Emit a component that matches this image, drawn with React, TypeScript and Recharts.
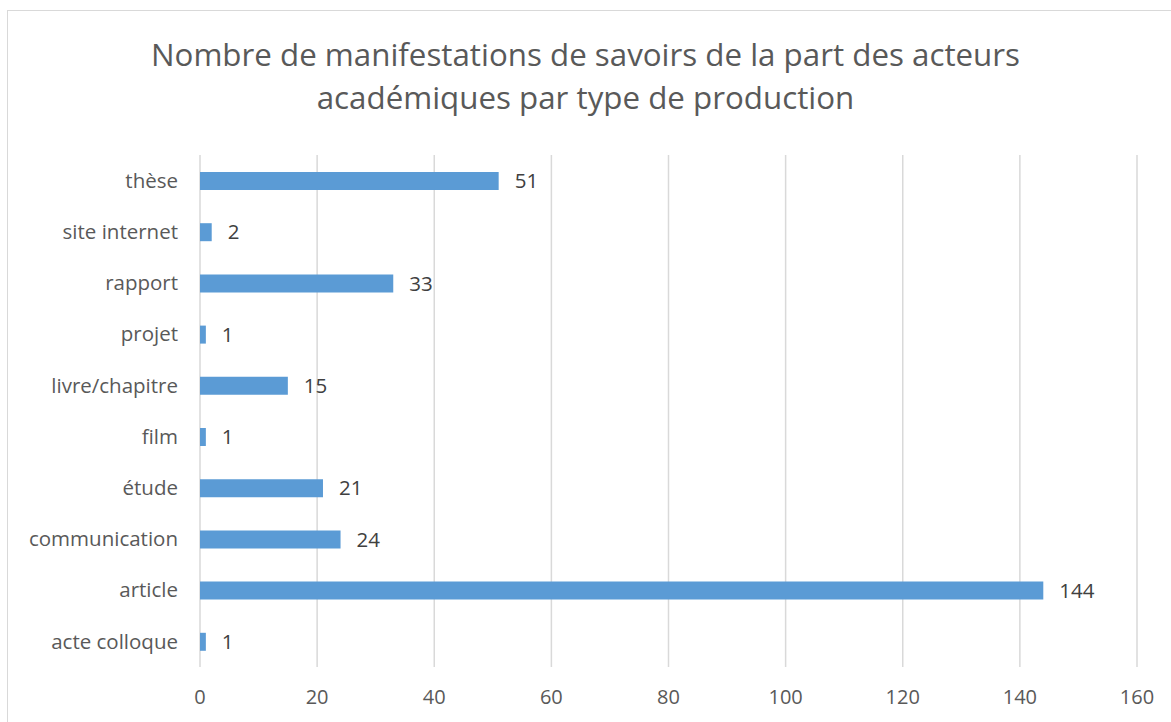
import React from "react";
import { BarChart, Bar, XAxis, YAxis, CartesianGrid, LabelList } from "recharts";

const categories = [
  "thèse",
  "site internet",
  "rapport",
  "projet",
  "livre/chapitre",
  "film",
  "étude",
  "communication",
  "article",
  "acte colloque",
];
const values = [51, 2, 33, 1, 15, 1, 21, 24, 144, 1];
const xTicks = [0, 20, 40, 60, 80, 100, 120, 140, 160];
const titleLines = [
  "Nombre de manifestations de savoirs de la part des acteurs",
  "académiques par type de production",
];

const data = categories.map((c, i) => ({ name: c, value: values[i] }));

const FONT = "'Open Sans', 'Liberation Sans', sans-serif";

export default function App() {
  return (
    <div style={{ position: "absolute", left: 0, top: 0, width: 1171, height: 722, background: "#fff", overflow: "hidden", fontFamily: FONT }}>
      <div style={{ position: "absolute", left: 7, top: 10, width: 1180, height: 730, border: "1px solid #d9d9d9" }} />
      <div style={{ position: "absolute", left: 0, top: 33, width: 1171, textAlign: "center", color: "#595959", fontSize: 31.3, lineHeight: "43px" }}>
        {titleLines.map((l, i) => (
          <div key={i}>{l}</div>
        ))}
      </div>
      <div style={{ position: "absolute", left: 0, top: 0 }}>
        <BarChart
          width={1171}
          height={722}
          data={data}
          layout="vertical"
          margin={{ top: 155, right: 34, bottom: 0, left: 20 }}
        >
          <CartesianGrid horizontal={false} vertical={true} stroke="#d9d9d9" strokeWidth={1.5} />
          <XAxis
            type="number"
            domain={[0, 160]}
            ticks={xTicks}
            height={55}
            axisLine={false}
            tickLine={false}
            tickSize={6}
            tickMargin={17}
            tick={{ fill: "#595959", fontSize: 20, fontFamily: FONT }}
          />
          <YAxis
            type="category"
            dataKey="name"
            width={180}
            axisLine={false}
            tickLine={false}
            tickSize={6}
            tickMargin={16}
            tick={{ fill: "#595959", fontSize: 20.5, fontFamily: FONT }}
          />
          <Bar dataKey="value" fill="#5b9bd5" barSize={18} isAnimationActive={false}>
            <LabelList dataKey="value" position="right" offset={16} fill="#404040" fontSize={20.5} fontFamily={FONT} />
          </Bar>
        </BarChart>
      </div>
    </div>
  );
}
